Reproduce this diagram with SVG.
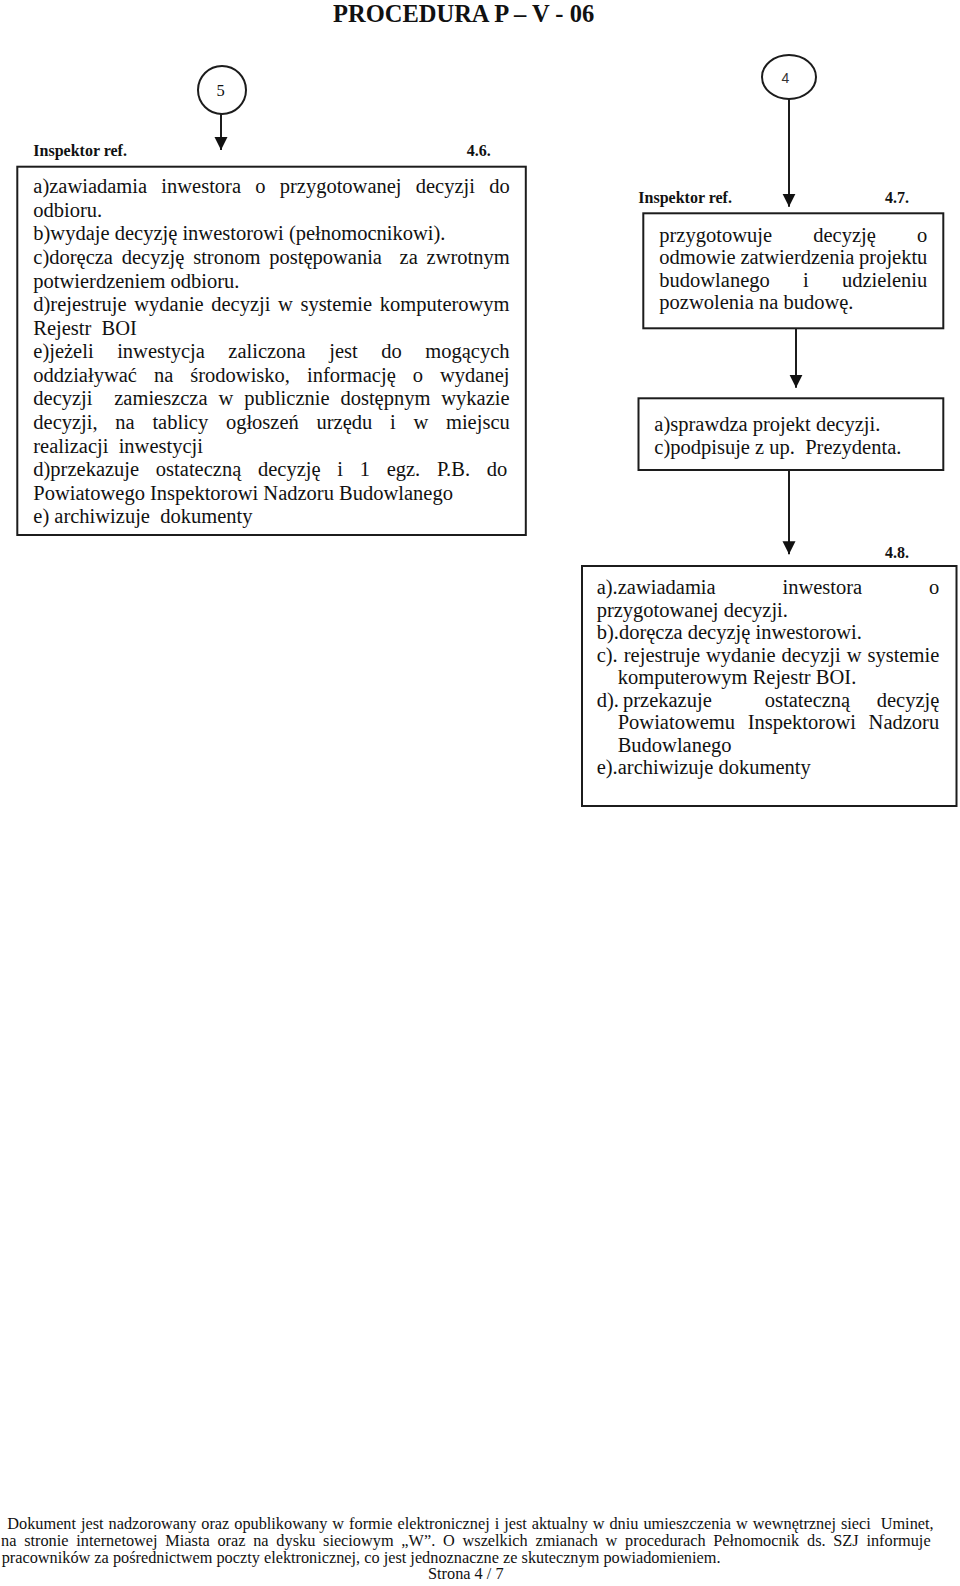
<svg xmlns="http://www.w3.org/2000/svg" width="960" height="1586" viewBox="0 0 960 1586">
<style>
text{font-family:"Liberation Serif","Times New Roman",serif;fill:#111;}
.t{font-size:20.5px;}
.h{font-size:16px;font-weight:bold;}
.f{font-size:16.3px;}
.box{fill:#fff;stroke:#1c1c1c;stroke-width:2;}
.con{stroke:#1c1c1c;stroke-width:2;fill:none;}
</style>
<defs>
<marker id="ah" markerUnits="userSpaceOnUse" markerWidth="14" markerHeight="14" refX="13" refY="6.5" orient="auto">
<path d="M0,0 L13,6.5 L0,13 z" fill="#111"/>
</marker>
</defs>
<rect width="960" height="1586" fill="#fff"/>

<text x="333" y="21.5" style="font-size:24.5px;font-weight:bold">PROCEDURA P – V - 06</text>

<g id="connectors">
<line class="con" x1="221" y1="114" x2="221" y2="150" marker-end="url(#ah)"/>
<line class="con" x1="789" y1="99" x2="789" y2="206.7" marker-end="url(#ah)"/>
<line class="con" x1="796" y1="328.3" x2="796" y2="387.7" marker-end="url(#ah)"/>
<line class="con" x1="789" y1="470" x2="789" y2="554.3" marker-end="url(#ah)"/>
</g>

<g id="node-5">
<circle cx="222" cy="90" r="24" class="box"/>
<text x="220.5" y="95.5" style="font-size:16.5px" text-anchor="middle">5</text>
</g>

<g id="node-4">
<ellipse cx="789" cy="77" rx="27" ry="22" class="box"/>
<text x="785.5" y="82.7" style="font-family:'Liberation Sans',Arial,sans-serif;font-size:14px;fill:#333" text-anchor="middle">4</text>
</g>

<g id="node-4-6">
<text class="h" x="33.3" y="156">Inspektor ref.</text>
<text class="h" x="466.7" y="156">4.6.</text>
<rect class="box" x="17.3" y="166.7" width="508.5" height="368.3"/>
<text class="t" x="33.3" y="193.3" style="word-spacing:9.1px">a)zawiadamia inwestora o przygotowanej decyzji do</text>
<text class="t" x="33.3" y="216.9">odbioru.</text>
<text class="t" x="33.3" y="240.4">b)wydaje decyzję inwestorowi (pełnomocnikowi).</text>
<text class="t" x="33.3" y="264" xml:space="preserve" style="word-spacing:3.7px">c)doręcza decyzję stronom postępowania  za zwrotnym</text>
<text class="t" x="33.3" y="287.6">potwierdzeniem odbioru.</text>
<text class="t" x="33.3" y="311.2" style="word-spacing:2.46px">d)rejestruje wydanie decyzji w systemie komputerowym</text>
<text class="t" x="33.3" y="334.7" xml:space="preserve">Rejestr  BOI</text>
<text class="t" x="33.3" y="358.3" style="word-spacing:18.4px">e)jeżeli inwestycja zaliczona jest do mogących</text>
<text class="t" x="33.3" y="381.9" style="word-spacing:11.9px">oddziaływać na środowisko, informację o wydanej</text>
<text class="t" x="33.3" y="405.4" xml:space="preserve" style="word-spacing:5.76px">decyzji  zamieszcza w publicznie dostępnym wykazie</text>
<text class="t" x="33.3" y="429" style="word-spacing:12.6px">decyzji, na tablicy ogłoszeń urzędu i w miejscu</text>
<text class="t" x="33.3" y="452.6" xml:space="preserve">realizacji  inwestycji</text>
<text class="t" x="33.3" y="476.1" style="word-spacing:11.6px">d)przekazuje ostateczną decyzję i 1 egz. P.B. do</text>
<text class="t" x="33.3" y="499.7">Powiatowego Inspektorowi Nadzoru Budowlanego</text>
<text class="t" x="33.3" y="523.3" xml:space="preserve">e) archiwizuje  dokumenty</text>
</g>

<g id="node-4-7">
<text class="h" x="638.3" y="202.7">Inspektor ref.</text>
<text class="h" x="885" y="202.7">4.7.</text>
<rect class="box" x="643.3" y="213.3" width="300" height="115"/>
<text class="t" x="659.3" y="241.7" style="word-spacing:36.1px">przygotowuje decyzję o</text>
<text class="t" x="659.3" y="264.2" style="word-spacing:-0.3px">odmowie zatwierdzenia projektu</text>
<text class="t" x="659.3" y="286.7" style="word-spacing:28.1px">budowlanego i udzieleniu</text>
<text class="t" x="659.3" y="309.2">pozwolenia na budowę.</text>
</g>

<g id="node-sign">
<rect class="box" x="638.5" y="398.3" width="304.8" height="71.7"/>
<text class="t" x="654.3" y="431">a)sprawdza projekt decyzji.</text>
<text class="t" x="654.3" y="453.5" xml:space="preserve">c)podpisuje z up.  Prezydenta.</text>
</g>

<g id="node-4-8">
<text class="h" x="885" y="558.3">4.8.</text>
<rect class="box" x="582" y="566" width="374.5" height="240"/>
<text class="t" x="596.7" y="594" style="word-spacing:61.7px">a).zawiadamia inwestora o</text>
<text class="t" x="596.7" y="616.5">przygotowanej decyzji.</text>
<text class="t" x="596.7" y="639">b).doręcza decyzję inwestorowi.</text>
<text class="t" x="596.7" y="661.5" style="word-spacing:0.9px">c). rejestruje wydanie decyzji w systemie</text>
<text class="t" x="617.7" y="684">komputerowym Rejestr BOI.</text>
<text class="t" x="596.7" y="706.5">d).</text>
<text class="t" x="623" y="706.5" xml:space="preserve" style="word-spacing:21.4px">przekazuje  ostateczną decyzję</text>
<text class="t" x="617.7" y="729" style="word-spacing:7.6px">Powiatowemu Inspektorowi Nadzoru</text>
<text class="t" x="617.7" y="751.5">Budowlanego</text>
<text class="t" x="596.7" y="774">e).archiwizuje dokumenty</text>
</g>

<g id="footer">
<text class="f" x="7.3" y="1529" xml:space="preserve" style="word-spacing:0.9px">Dokument jest nadzorowany oraz opublikowany w formie elektronicznej i jest aktualny w dniu umieszczenia w wewnętrznej sieci  Uminet,</text>
<text class="f" x="1" y="1546" style="word-spacing:3.7px">na stronie internetowej Miasta oraz na dysku sieciowym „W”. O wszelkich zmianach w procedurach Pełnomocnik ds. SZJ informuje</text>
<text class="f" x="1.7" y="1562.5">pracowników za pośrednictwem poczty elektronicznej, co jest jednoznaczne ze skutecznym powiadomieniem.</text>
<text class="f" x="428" y="1579">Strona 4 / 7</text>
</g>
</svg>
